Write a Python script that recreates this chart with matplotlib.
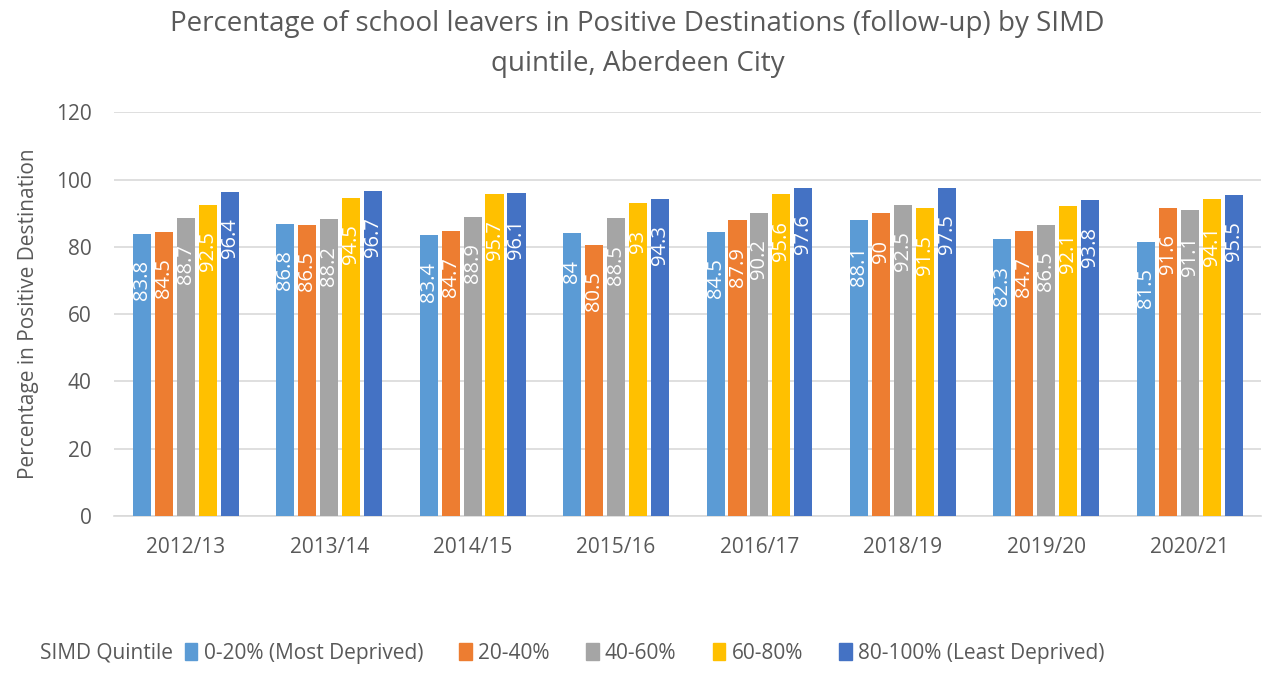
import numpy as np
import matplotlib.pyplot as plt
from matplotlib.patches import Patch

plt.rcParams['font.family'] = ['Open Sans', 'DejaVu Sans']

years = ['2012/13', '2013/14', '2014/15', '2015/16', '2016/17', '2018/19', '2019/20', '2020/21']
quintiles = ['0-20% (Most Deprived)', '20-40%', '40-60%', '60-80%', '80-100% (Least Deprived)']
q1 = [83.8, 86.8, 83.4, 84, 84.5, 88.1, 82.3, 81.5]
q2 = [84.5, 86.5, 84.7, 80.5, 87.9, 90, 84.7, 91.6]
q3 = [88.7, 88.2, 88.9, 88.5, 90.2, 92.5, 86.5, 91.1]
q4 = [92.5, 94.5, 95.7, 93, 95.6, 91.5, 92.1, 94.1]
q5 = [96.4, 96.7, 96.1, 94.3, 97.6, 97.5, 93.8, 95.5]
colors = ['#5b9bd5', '#ed7d31', '#a5a5a5', '#ffc000', '#4472c4']

series = [q1, q2, q3, q4, q5]
grey = '#595959'

fig = plt.figure(figsize=(12.75, 6.89), dpi=100)
ax = fig.add_axes([0.0894, 0.251, 0.9, 0.586])

x = np.arange(len(years))
w = 0.126
step = 0.153
for i, vals in enumerate(series):
    pos = x + (i - 2) * step
    bars = ax.bar(pos, vals, width=w, color=colors[i], zorder=3)
    for b, v in zip(bars, vals):
        ax.annotate(f'{v:g}', (b.get_x() + b.get_width() / 2, v), xytext=(0, -19),
                    textcoords='offset points', rotation=90, ha='center', va='top',
                    color='white', fontsize=14.5, zorder=4)

ax.set_xlim(-0.5, len(years) - 0.5)
ax.set_ylim(0, 120)
ax.set_yticks(range(0, 121, 20))
ax.set_xticks(x)
ax.set_xticklabels(years)
ax.tick_params(axis='both', length=0, labelsize=15, labelcolor=grey, pad=15)
ax.tick_params(axis='y', pad=16)
ax.grid(axis='y', color='#d9d9d9', linewidth=1.2, zorder=0)
for s in ['top', 'right', 'left']:
    ax.spines[s].set_visible(False)
ax.spines['bottom'].set_color('#d9d9d9')
ax.spines['bottom'].set_linewidth(1.2)
ax.set_ylabel('Percentage in Positive Destination', fontsize=15, color=grey, labelpad=12)

fig.suptitle('Percentage of school leavers in Positive Destinations (follow-up) by SIMD\nquintile, Aberdeen City',
             fontsize=20, color=grey, y=0.985, linespacing=1.55)

fig.text(40 / 1275, 0.052, 'SIMD Quintile', fontsize=15, color=grey, va='center', ha='left')
handles = [Patch(color=c, label=l) for c, l in zip(colors, quintiles)]
leg = fig.legend(handles=handles, loc='center left', bbox_to_anchor=(166 / 1275, 0.052), ncol=5,
                 frameon=False, fontsize=15, handlelength=0.6, handleheight=0.9,
                 handletextpad=0.3, columnspacing=1.75)
for t in leg.get_texts():
    t.set_color(grey)

fig.savefig('out.png', dpi=100)
